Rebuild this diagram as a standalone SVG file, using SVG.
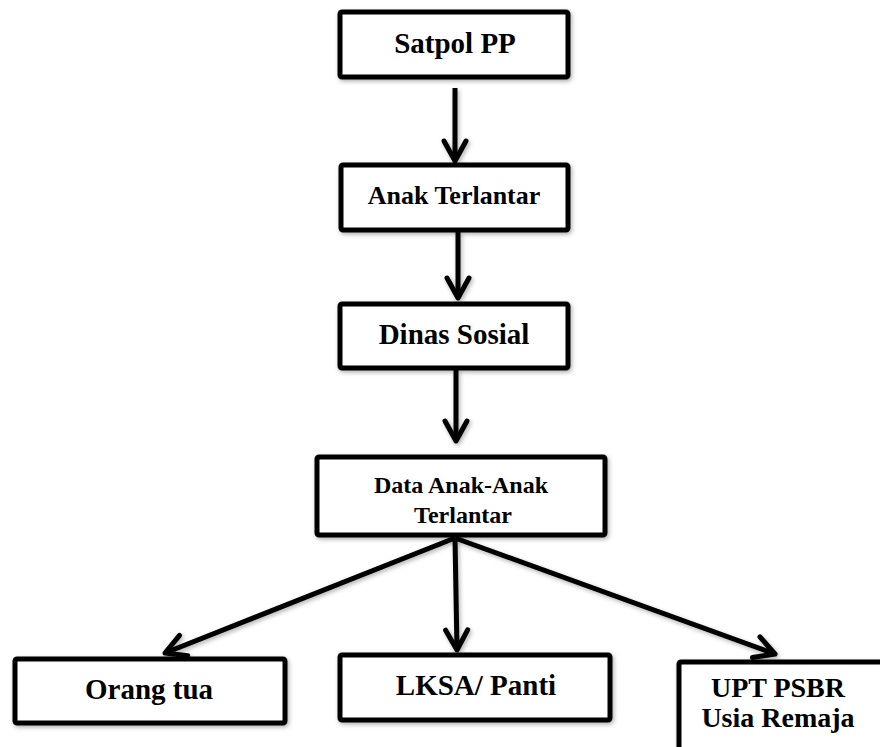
<svg xmlns="http://www.w3.org/2000/svg" width="880" height="747" viewBox="0 0 880 747">
  <defs>
    <filter id="sh" filterUnits="userSpaceOnUse" x="0" y="0" width="880" height="747">
      <feDropShadow dx="1.5" dy="2" stdDeviation="2" flood-color="#000" flood-opacity="0.3"/>
    </filter>
    <marker id="ah" markerUnits="userSpaceOnUse" orient="auto" refX="0" refY="0" markerWidth="30" markerHeight="30" overflow="visible">
      <path d="M-20,-11 L0,0 L-20,11" fill="none" stroke="#000" stroke-width="5" stroke-linecap="round" stroke-linejoin="round"/>
    </marker>
    <style>
      .box { fill: #fff; stroke: #000; stroke-width: 5; filter: url(#sh); }
      .lbl { font-family: "Liberation Serif", "Times New Roman", serif; font-weight: bold; fill: #000; text-anchor: middle; }
      .conn { fill: none; stroke: #000; stroke-width: 5; stroke-linecap: butt; marker-end: url(#ah); }
    </style>
  </defs>
  <rect width="880" height="747" fill="#fff"/>

  <g id="connectors" filter="url(#sh)">
    <line class="conn" x1="455" y1="88" x2="455" y2="161"/>
    <line class="conn" x1="458" y1="232" x2="458" y2="298"/>
    <line class="conn" x1="456" y1="370" x2="456" y2="441"/>
    <line class="conn" x1="455" y1="538" x2="165" y2="653"/>
    <line class="conn" x1="455" y1="538" x2="457" y2="650"/>
    <line class="conn" x1="455" y1="538" x2="775" y2="654"/>
  </g>

  <g id="satpol">
    <rect class="box" x="340" y="12" width="228" height="65" rx="2"/>
    <text class="lbl" x="455" y="53" font-size="29">Satpol PP</text>
  </g>
  <g id="anak-terlantar">
    <rect class="box" x="341" y="165" width="227" height="65" rx="2"/>
    <text class="lbl" x="454" y="204" font-size="26">Anak Terlantar</text>
  </g>
  <g id="dinas-sosial">
    <rect class="box" x="340" y="304" width="228" height="64" rx="2"/>
    <text class="lbl" x="454" y="344" font-size="29">Dinas Sosial</text>
  </g>
  <g id="data-anak">
    <rect class="box" x="317" y="457" width="288" height="78" rx="2"/>
    <text class="lbl" x="461" y="493" font-size="24">Data Anak-Anak</text>
    <text class="lbl" x="463" y="523" font-size="24">Terlantar</text>
  </g>
  <g id="orang-tua">
    <rect class="box" x="15" y="659" width="270" height="64" rx="2"/>
    <text class="lbl" x="149" y="699" font-size="29">Orang tua</text>
  </g>
  <g id="lksa">
    <rect class="box" x="340" y="655" width="270" height="65" rx="2"/>
    <text class="lbl" x="476" y="695" font-size="29">LKSA/ Panti</text>
  </g>
  <g id="upt-psbr">
    <rect class="box" x="679" y="662" width="240" height="100" rx="2"/>
    <text class="lbl" x="778" y="697" font-size="28">UPT PSBR</text>
    <text class="lbl" x="778" y="727" font-size="28">Usia Remaja</text>
  </g>
</svg>
